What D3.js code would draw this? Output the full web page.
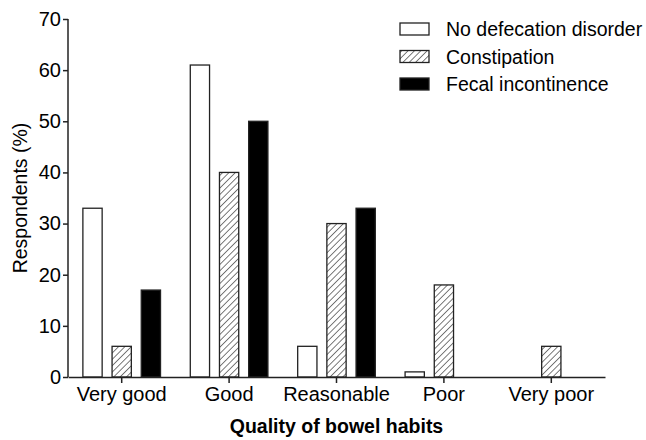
<!DOCTYPE html>
<html><head><meta charset="utf-8">
<script src="https://cdn.jsdelivr.net/npm/d3@7"></script>
<style>body{margin:0;background:#fff}svg{display:block}text{font-family:"Liberation Sans",Arial,sans-serif;fill:#000}</style>
</head><body>
<svg id="c" width="646" height="440"></svg>
<script>
const categories = ["Very good","Good","Reasonable","Poor","Very poor"];
const seriesNames = ["No defecation disorder","Constipation","Fecal incontinence"];
const noDisorder = [33,61,6,1,0];
const constipation = [6,40,30,18,6];
const fecal = [17,50,33,0,0];
const yTicks = [0,10,20,30,40,50,60,70];
const seriesValues = [noDisorder, constipation, fecal];

const svg = d3.select("#c");
const x0 = 68, x1 = 605, yTop = 19, yBot = 377;
const x = d3.scaleBand().domain(categories).range([x0,x1]).padding(0);
const y = d3.scaleLinear().domain([0,70]).range([yBot,yTop]);
const xs = d3.scaleBand().domain(seriesNames).range([0,x.bandwidth()]).paddingInner(0.34).paddingOuter(0.51);

const defs = svg.append("defs");
const pat = defs.append("pattern").attr("id","hatch").attr("patternUnits","userSpaceOnUse")
  .attr("width",4.5).attr("height",4.5).attr("patternTransform","rotate(45)");
pat.append("rect").attr("width",4.5).attr("height",4.5).attr("fill","#fff");
pat.append("line").attr("x1",0).attr("y1",0).attr("x2",0).attr("y2",4.5).attr("stroke","#222").attr("stroke-width",1.2);

const fills = ["#fff","url(#hatch)","#000"];

const g = svg.append("g");
seriesNames.forEach((s,si)=>{
  g.selectAll(null).data(categories.map((c,i)=>({c,v:seriesValues[si][i]})).filter(d=>d.v>0))
   .enter().append("rect")
   .attr("x",d=>x(d.c)+xs(s)).attr("width",xs.bandwidth())
   .attr("y",d=>y(d.v)).attr("height",d=>yBot-y(d.v))
   .attr("fill",fills[si]).attr("stroke","#222").attr("stroke-width",1.3);
});

const yAxis = svg.append("g").attr("transform",`translate(${x0},0)`)
  .call(d3.axisLeft(y).tickValues(yTicks).tickSize(5).tickPadding(2).tickFormat(d3.format("d")));
const xAxis = svg.append("g").attr("transform",`translate(0,${yBot})`)
  .call(d3.axisBottom(x).tickSize(6).tickPadding(4).tickSizeOuter(0));
[yAxis,xAxis].forEach(a=>{
  a.selectAll("path,line").attr("stroke","#222").attr("stroke-width",1.5);
  a.selectAll("text").style("font-size","20px").style("font-family","'Liberation Sans',Arial,sans-serif").attr("fill","#000");
});
yAxis.select(".domain").attr("d",`M-0,${yTop}V${yBot}`);

svg.append("text").attr("transform",`translate(27,${(yTop+yBot)/2}) rotate(-90)`)
  .attr("text-anchor","middle").style("font-size","19.5px").text("Respondents (%)");
svg.append("text").attr("x",(x0+x1)/2).attr("y",433).attr("text-anchor","middle")
  .style("font-size","19.5px").style("font-weight","bold").text("Quality of bowel habits");

const leg = svg.append("g");
seriesNames.forEach((s,i)=>{
  const base = 36 + i*27.5;
  leg.append("rect").attr("x",400).attr("y",base-13).attr("width",29).attr("height",12)
    .attr("fill",fills[i]).attr("stroke","#222").attr("stroke-width",1.3);
  leg.append("text").attr("x",446).attr("y",base).style("font-size","19.5px").text(s);
});
</script>
</body></html>
